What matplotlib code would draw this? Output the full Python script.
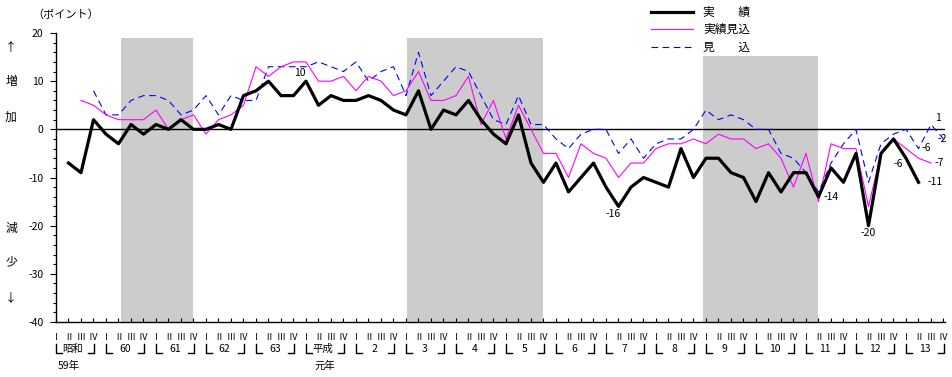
import numpy as np
import matplotlib
matplotlib.use('Agg')
import matplotlib.pyplot as plt
from matplotlib.lines import Line2D
from matplotlib.transforms import blended_transform_factory

plt.rcParams['font.family'] = ['Noto Sans CJK JP', 'DejaVu Sans']
plt.rcParams['axes.unicode_minus'] = False

nan = np.nan

# 四半期ラベル (昭和59年Ⅰ期 ～ 平成13年Ⅳ期)
quarters = ['Ⅰ', 'Ⅱ', 'Ⅲ', 'Ⅳ'] * 18
years = ['昭和', '60', '61', '62', '63', '平成', '2', '3', '4', '5',
         '6', '7', '8', '9', '10', '11', '12', '13']
sub_years = ['59年', '元年']
sub_year_idx = [0, 5]

# 実績
jisseki = [nan, -7, -9, 2, -1, -3, 1, -1, 1, 0, 2,
           0, 0, 1, 0, 7, 8, 10, 7, 7, 10,
           5, 7, 6, 6, 7, 6, 4, 3, 8, 0,
           4, 3, 6, 2, -1, -3, 3, -7, -11, -7,
           -13, -10, -7, -12, -16, -12, -10, -11, -12, -4,
           -10, -6, -6, -9, -10, -15, -9, -13, -9, -9,
           -14, -8, -11, -5, -20, -5, -2, -6, -11, nan, nan]

# 実績見込
jisseki_mikomi = [nan, nan, 6, 5, 3, 2, 2, 2, 4, 0, 2,
                  3, -1, 2, 3, 5, 13, 11, 13, 14, 14,
                  10, 10, 11, 8, 11, 10, 7, 8, 12, 6,
                  6, 7, 11, 1, 6, -2, 5, 0, -5, -5,
                  -10, -3, -5, -6, -10, -7, -7, -4, -3, -3,
                  -2, -3, -1, -2, -2, -4, -3, -6, -12, -5,
                  -15, -3, -4, -4, -16, -5, -2, -4, -6, -7, nan]

# 見込
mikomi = [nan, nan, nan, 8, 3, 3, 6, 7, 7, 6, 3,
          4, 7, 3, 7, 6, 6, 13, 13, 13, 13,
          14, 13, 12, 14, 10, 12, 13, 7, 16, 7,
          10, 13, 12, 7, 2, 1, 7, 1, 1, -2,
          -4, -1, 0, 0, -5, -2, -6, -3, -2, -2,
          0, 4, 2, 3, 2, 0, 0, -5, -6, -9,
          -13, -7, -3, 0, -11, -3, -1, 0, -4, 1, -2]

# 景気後退期 (網掛け)
shade_start = [5.2, 28.1, 51.8]
shade_end = [11.0, 39.0, 61.0]
shade_top = [19, 19, 15.3]

W, H = 953, 377
fig = plt.figure(figsize=(W / 100, H / 100), dpi=100)
ax = fig.add_axes([56 / W, 1 - 322 / H, (945 - 56) / W, (322 - 33) / H])
x = np.arange(len(quarters))

def fy(px):
    return 1 - px / H

# shaded periods
for s, e, t in zip(shade_start, shade_end, shade_top):
    ax.fill_between([s, e], -40, t, color='#cccccc', lw=0, zorder=0)

ax.axhline(0, color='black', lw=1.0, zorder=1)

ax.plot(x, mikomi, color='#0000ff', lw=0.8, dashes=(6, 4), zorder=2)
ax.plot(x, jisseki_mikomi, color='#ff00ff', lw=0.8, zorder=3)
ax.plot(x, jisseki, color='black', lw=2.3, zorder=4)

ax.set_xlim(0, (945 - 56) / 12.5)
ax.set_ylim(-40, 20)
for side in ['top', 'right']:
    ax.spines[side].set_visible(False)
ax.spines['left'].set_linewidth(1.0)
ax.spines['bottom'].set_linewidth(1.0)

ax.set_yticks(range(-40, 21, 10))
ax.set_yticks(range(-40, 21, 2), minor=True)
ax.tick_params(axis='y', which='major', direction='out', length=4, width=0.8,
               labelsize=7.5, pad=5)
ax.tick_params(axis='y', which='minor', direction='out', length=2, width=0.8)
ax.set_xticks(x)
ax.set_xticklabels(quarters)
ax.tick_params(axis='x', direction='in', length=3, width=0.8, labelsize=6.5, pad=8)

# year brackets under the quarters
trans = blended_transform_factory(ax.transData, fig.transFigure)
for k, name in enumerate(years):
    x0 = 4 * k - 0.02
    x1 = 4 * k + 3.05
    ax.plot([x0, x0, x0 + 0.5], [fy(344), fy(353), fy(353)], transform=trans,
            color='black', lw=1.0, clip_on=False)
    ax.plot([x1 - 0.5, x1, x1], [fy(353), fy(353), fy(344)], transform=trans,
            color='black', lw=1.0, clip_on=False)
    xc = 4 * k + (1.35 if not name.isdigit() else 1.5)
    ax.text(xc, fy(349), name, transform=trans, ha='center', va='center',
            fontsize=7.5)
for k, name in zip(sub_year_idx, sub_years):
    ax.text(4 * k + (1.0 if k == 0 else 1.5), fy(366), name, transform=trans,
            ha='center', va='center', fontsize=7.5)

# value labels
labels = [
    (jisseki, 20, '10', -6, 8, 'center'),
    (jisseki, 45, '-16', -5, -8, 'center'),
    (jisseki, 61, '-14', 5, 0, 'left'),
    (jisseki, 65, '-20', 0, -7, 'center'),
    (jisseki, 68, '-6', -8, -6, 'center'),
    (jisseki, 69, '-11', 9, 0, 'left'),
    (jisseki_mikomi, 70, '-7', 4, 0, 'left'),
    (mikomi, 69, '-6', 3, 1, 'left'),
    (mikomi, 70, '1', 7, 7, 'center'),
    (mikomi, 71, '-2', -1, 0, 'center'),
]
for series, i, txt, dx, dy, ha in labels:
    ax.annotate(txt, (i, series[i]), xytext=(dx, dy), textcoords='offset pixels',
                ha=ha, va='center', fontsize=7.5, annotation_clip=False, zorder=5)

# left side captions
fig.text(66 / W, fy(15), '（ポイント）', ha='center', va='center', fontsize=8)
for txt, py in zip(['↑', '増', '加', '減', '少', '↓'], [47, 82, 117, 228, 262, 298]):
    fig.text(11 / W, fy(py), txt, ha='center', va='center', fontsize=8.5)

# legend
leg_names = ['実　　績', '実績見込', '見　　込']
leg_styles = [dict(color='black', lw=2.3),
              dict(color='#ff00ff', lw=0.8),
              dict(color='#0000ff', lw=0.8, dashes=(6, 4))]
for name, st, py in zip(leg_names, leg_styles, [12, 29, 47]):
    fig.add_artist(Line2D([651 / W, 693 / W], [fy(py), fy(py)], **st))
    fig.text(703 / W, fy(py), name, ha='left', va='center', fontsize=8.5)

fig.savefig('out.png', dpi=100)
